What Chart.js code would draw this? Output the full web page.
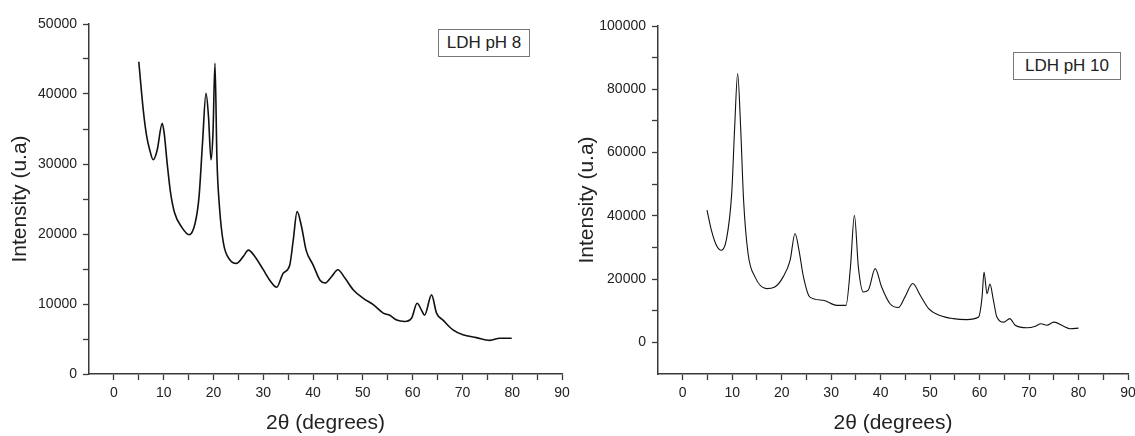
<!DOCTYPE html>
<html>
<head>
	<title>LDH XRD patterns</title>
	<script src="https://cdn.jsdelivr.net/npm/chart.js"></script>
	<style>
		body {
			margin: 0;
			background: #fff;
			font-family: 'Liberation Sans', Arial, sans-serif;
		}

		.wrap {
			position: relative;
			width: 1135px;
			height: 436px;
			overflow: hidden;
		}

		canvas {
			position: absolute;
			top: 0;
		}

		.tag {
			position: absolute;
			box-sizing: border-box;
			border: 1px solid #777;
			background: #fff;
			font-size: 17px;
			color: #222;
			text-align: center;
			line-height: 26px;
		}
	</style>
</head>

<body>
	<div class="wrap">
		<canvas id="ph8" width="580" height="436" style="left:0"></canvas>
		<canvas id="ph10" width="568" height="436" style="left:567px"></canvas>
		<div class="tag" style="left:438px; top:29px; width:92px; height:28px;">LDH pH 8</div>
		<div class="tag" style="left:1013px; top:52px; width:108px; height:28px;">LDH pH 10</div>
	</div>

	<script>
		// 2theta (degrees) and intensity
		var ph8X = [ 5.0, 5.9, 6.6, 7.2, 7.9, 8.7, 9.7, 10.1, 10.7, 11.4, 12.2, 13.6, 15.1, 16.3, 17.1, 17.8, 18.5, 19.0, 19.5, 19.9, 20.3, 20.7, 21.2, 22.0, 23.3, 24.6, 26.0, 27.0, 28.3, 30.0, 31.3, 32.7, 34.0, 35.3, 36.0, 36.8, 37.7, 38.6, 40.0, 41.4, 42.4, 43.7, 45.0, 46.4, 48.1, 50.1, 52.1, 54.1, 55.4, 56.8, 58.4, 59.8, 60.9, 61.8, 62.4, 63.8, 64.8, 66.1, 68.1, 70.1, 72.8, 75.5, 77.5, 79.9 ];
		var ph8Y = [ 44600, 37700, 33900, 32000, 30600, 32000, 35800, 34400, 30100, 25800, 23000, 21000, 19900, 21500, 25300, 33000, 40100, 36800, 30600, 34400, 44400, 30600, 23900, 18700, 16300, 15800, 16800, 17700, 16800, 14900, 13400, 12400, 14400, 15500, 19000, 23200, 21000, 17700, 15600, 13400, 13000, 13900, 14900, 13700, 12000, 10800, 9900, 8700, 8400, 7700, 7500, 8000, 10100, 9100, 8400, 11300, 8700, 7700, 6300, 5600, 5200, 4800, 5100, 5100 ];

		var ph10X = [ 4.9, 5.8, 6.8, 7.8, 8.8, 9.9, 10.5, 11.1, 11.7, 12.3, 13.2, 14.6, 16.9, 18.6, 20.3, 21.7, 22.7, 23.5, 24.4, 25.7, 28.4, 31.1, 33.0, 33.9, 34.7, 35.5, 36.5, 37.5, 38.9, 40.2, 41.9, 43.6, 44.9, 46.5, 48.0, 49.7, 52.0, 54.7, 57.4, 59.8, 60.5, 60.9, 61.5, 62.1, 62.8, 63.5, 64.9, 66.1, 67.2, 69.6, 71.3, 72.4, 73.6, 75.0, 77.0, 78.3, 80.0 ];
		var ph10Y = [ 41800, 35400, 30700, 29100, 32300, 47100, 68100, 85000, 68100, 44900, 28100, 20700, 17000, 17500, 20700, 25900, 34400, 29100, 20700, 14300, 13300, 11700, 11700, 23800, 40200, 23800, 15900, 16500, 23300, 17500, 12200, 11000, 14300, 18600, 14900, 10700, 8500, 7500, 7200, 8000, 14300, 22200, 15400, 18400, 13300, 8000, 6400, 7500, 5400, 4600, 5100, 5900, 5400, 6400, 5100, 4300, 4500 ];

		var xMin = -5, xMax = 90, xStep = 5;
		var yRange8 = [ 0, 50000, 5000, 10000 ];      // min, max, step, labelled every
		var yRange10 = [ -10000, 100000, 10000, 20000 ];

		var axisColor = '#3a3a3a';
		var textColor = '#222';

		function toPoints( xs, ys ) {
			var pts = [];
			for( var i = 0; i < xs.length; i++ ) {
				pts.push( { x: xs[ i ], y: ys[ i ] } );
			}
			return pts;
		}

		function makeChart( id, xs, ys, yr, axisW, pad, lw ) {
			new Chart( document.getElementById( id ), {
				type: 'line',
				data: {
					datasets: [{
						data: toPoints( xs, ys ),
						borderColor: '#111',
						borderWidth: lw,
						pointRadius: 0,
						fill: false,
						cubicInterpolationMode: 'monotone'
					}]
				},
				options: {
					responsive: false,
					animation: false,
					layout: { padding: pad },
					plugins: {
						legend: { display: false },
						tooltip: { enabled: false }
					},
					scales: {
						x: {
							type: 'linear',
							min: xMin,
							max: xMax,
							grid: {
								drawOnChartArea: false,
								tickLength: 6,
								tickWidth: 1.3,
								tickColor: function( c ) {
									return c.tick && c.tick.value === xMin ? 'rgba(0,0,0,0)' : axisColor;
								}
							},
							border: { display: true, color: axisColor, width: 1.5 },
							ticks: {
								stepSize: xStep,
								autoSkip: false,
								maxRotation: 0,
								padding: 5,
								color: textColor,
								font: { family: "'Liberation Sans', Arial", size: 14 },
								callback: function( v ) {
									return v % 10 === 0 ? String( v ) : '';
								}
							},
							title: {
								display: true,
								text: '2θ (degrees)',
								color: textColor,
								padding: 0,
								font: { family: "'Liberation Sans', Arial", size: 21 }
							},
							afterFit: function( s ) {
								s.height = 62;
								s.paddingLeft = 0;
								s.paddingRight = 0;
							}
						},
						y: {
							min: yr[ 0 ],
							max: yr[ 1 ],
							grid: {
								drawOnChartArea: false,
								tickLength: 6,
								tickWidth: 1.3,
								tickColor: function( c ) {
									return c.tick && c.tick.value === yr[ 0 ] && yr[ 0 ] !== 0 ? 'rgba(0,0,0,0)' : axisColor;
								}
							},
							border: { display: true, color: axisColor, width: 1.5 },
							ticks: {
								stepSize: yr[ 2 ],
								autoSkip: false,
								padding: 6,
								color: textColor,
								font: { family: "'Liberation Sans', Arial", size: 14 },
								callback: function( v ) {
									return v % yr[ 3 ] === 0 ? String( v ) : '';
								}
							},
							title: {
								display: true,
								text: 'Intensity (u.a)',
								color: textColor,
								padding: { top: 8, bottom: 0 },
								font: { family: "'Liberation Sans', Arial", size: 21 }
							},
							afterFit: function( s ) {
								s.width = axisW;
								s.paddingTop = 0;
								s.paddingBottom = 0;
							}
						}
					}
				}
			});
		}

		makeChart( 'ph8', ph8X, ph8Y, yRange8, 89, { top: 24, right: 18, left: 0, bottom: 0 }, 1.6 );
		makeChart( 'ph10', ph10X, ph10Y, yRange10, 91, { top: 26, right: 7, left: 0, bottom: 0 }, 1.1 );
	</script>
</body>
</html>
